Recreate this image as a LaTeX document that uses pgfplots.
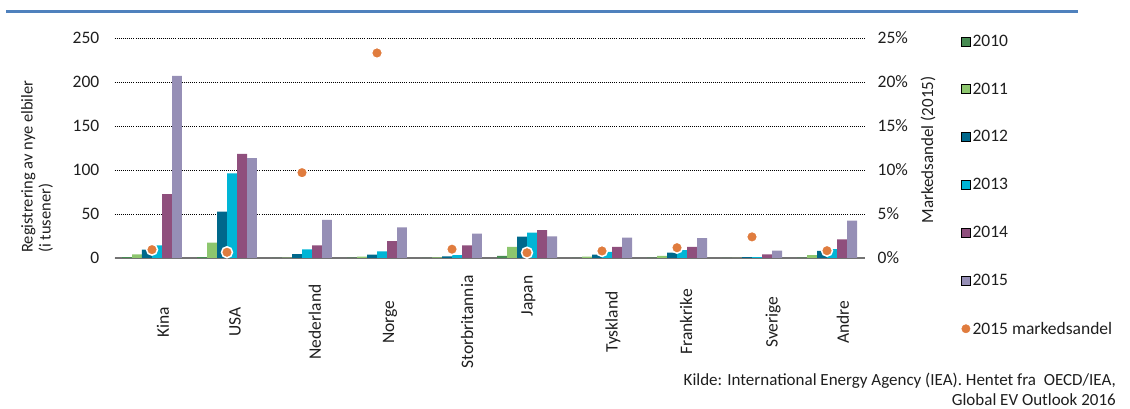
\documentclass[border=0pt]{standalone}
\usepackage{fontspec}
\setmainfont{Carlito}
\usepackage{pgfplots}
\pgfplotsset{compat=1.18}

\definecolor{c2010}{RGB}{71,139,82}
\definecolor{c2011}{RGB}{141,198,110}
\definecolor{c2012}{RGB}{0,104,139}
\definecolor{c2013}{RGB}{0,181,214}
\definecolor{c2014}{RGB}{143,79,125}
\definecolor{c2015}{RGB}{150,143,182}
\definecolor{cdot}{RGB}{224,124,62}
\definecolor{txt}{RGB}{30,30,30}
\definecolor{rulecol}{RGB}{79,129,189}

\newcommand\fs{\fontsize{17.5bp}{18bp}\selectfont}

\pgfplotsset{
  sqlegend/.style={legend image code/.code={\fill[##1] (0bp,-4.5bp) rectangle (9bp,4.5bp);}},
  frame/.style={
    at={(114.5bp,151bp)}, anchor=south west,
    scale only axis, width=750bp, height=220bp,
    xmin=-0.5, xmax=9.5,
    major tick length=0pt,
    /pgf/number format/assume math mode=true,
  },
}

\begin{document}
\begin{tikzpicture}
\useasboundingbox (0,0) rectangle (1130bp,409bp);
\draw[rulecol, line width=2.5bp] (6bp,397.5bp) -- (1078bp,397.5bp);

% registrations per country and year (thousands)
\begin{axis}[frame,
  ymin=0, ymax=250,
  axis line style={draw=none},
  ytick={0,50,...,250},
  ymajorgrids,
  major grid style={black, line width=0.9bp, dash pattern=on 1bp off 1.1bp},
  extra y ticks={0}, extra y tick labels={},
  extra y tick style={major grid style={solid, draw=gray!90!black, line width=1.3bp}},
  yticklabel style={font=\fs, text=txt, anchor=east, inner sep=0pt, xshift=-15bp},
  xtick={0.147,1.107,2.173,3.173,4.2,5.02,6.147,7.12,8.28,9.213},
  xticklabels={Kina,USA,Nederland,Norge,Storbritannia,\hspace*{52bp}Japan,Tyskland,Frankrike,Sverige,Andre},
  xticklabel style={font=\fs, text=txt, yshift=-64bp, rotate=90, anchor=center},
  ybar, bar width=0.1333,
  every axis plot/.append style={draw=none},
]
\addplot[fill=c2010, bar shift=-0.3333] coordinates {(0,0.9) (1,0.9) (2,0.2) (3,0.3) (4,0.2) (5,2.3) (6,0.2) (7,0.3) (8,0.1) (9,0.5)};
\addplot[fill=c2011, bar shift=-0.2] coordinates {(0,4.2) (1,17.4) (2,0.3) (3,1.5) (4,0.6) (5,12.5) (6,1.5) (7,2.3) (8,0.2) (9,3.4)};
\addplot[fill=c2012, bar shift=-0.0667] coordinates {(0,9.5) (1,52.7) (2,4.5) (3,3.8) (4,1.9) (5,24.2) (6,3.8) (7,6.1) (8,1.0) (9,8.0)};
\addplot[fill=c2013, bar shift=0.0667] coordinates {(0,14.4) (1,96.2) (2,9.8) (3,7.6) (4,3.4) (5,28.8) (6,7.0) (7,9.0) (8,1.0) (9,10.2)};
\addplot[fill=c2014, bar shift=0.2] coordinates {(0,72.7) (1,118.2) (2,14.4) (3,19.3) (4,14.4) (5,31.8) (6,12.5) (7,12.5) (8,4.2) (9,21.2)};
\addplot[fill=c2015, bar shift=0.3333] coordinates {(0,207) (1,113.6) (2,43.2) (3,34.8) (4,27.7) (5,24.6) (6,23.1) (7,22.7) (8,8.3) (9,42.4)};
\end{axis}

% market share 2015 (percent)
\begin{axis}[frame,
  ymin=0, ymax=25,
  axis x line=none, axis y line*=right,
  y axis line style={draw=none},
  ytick={0,5,...,25},
  yticklabel={\pgfmathprintnumber{\tick}\%},
  yticklabel style={font=\fs, text=txt, anchor=west, inner sep=0pt, xshift=13bp},
  legend style={at={(1.1287,1.024)}, anchor=north west, draw=none, fill=none,
    font=\fs, text=txt, row sep=31bp, inner sep=0pt},
  legend cell align=left,
]
\addlegendimage{sqlegend, fill=c2010}
\addlegendimage{sqlegend, fill=c2011}
\addlegendimage{sqlegend, fill=c2012}
\addlegendimage{sqlegend, fill=c2013}
\addlegendimage{sqlegend, fill=c2014}
\addlegendimage{sqlegend, fill=c2015}
\addplot[only marks, mark=*, mark size=5.5bp,
  mark options={fill=cdot, draw=white, line width=1.5bp},
  legend image code/.code={\fill[cdot] (4.5bp,0bp) circle (4.2bp);}]
  coordinates {(0,0.95) (1,0.65) (2,9.7) (3,23.3) (4,1.0) (5,0.6) (6,0.8) (7,1.17) (8,2.4) (9,0.83)};
\legend{2010,2011,2012,2013,2014,2015,2015 markedsandel}
\end{axis}

\node[rotate=90, anchor=south west, align=left, inner sep=0pt,
  font=\fontsize{16.5bp}{18bp}\selectfont, text=txt]
  at (53bp,156bp) {Registrering av nye elbiler\\(i tusener)};
\node[rotate=90, inner sep=0pt, font=\fontsize{17bp}{18bp}\selectfont, text=txt]
  at (928bp,259bp) {Markedsandel (2015)};
\node[anchor=east, inner sep=0pt, font=\fontsize{17bp}{18bp}\selectfont, text=txt]
  at (1116bp,28bp) {Kilde: International Energy Agency (IEA). Hentet fra\ \ OECD/IEA,};
\node[anchor=east, inner sep=0pt, font=\fontsize{17bp}{18bp}\selectfont, text=txt]
  at (1116bp,9bp) {Global EV Outlook 2016};
\end{tikzpicture}
\end{document}
